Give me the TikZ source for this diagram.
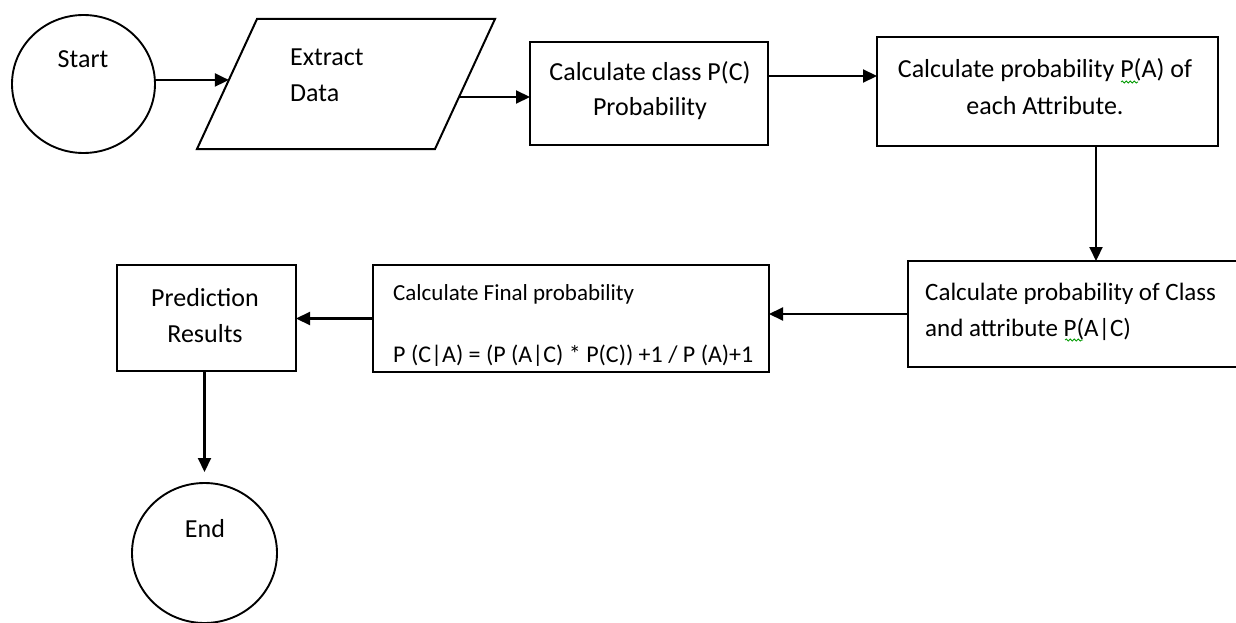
\documentclass[tikz,border=0pt]{standalone}
\usepackage{fontspec}
\setmainfont{Carlito}
\usetikzlibrary{arrows.meta,calc,shapes.geometric,decorations.pathmorphing}
\begin{document}
\begin{tikzpicture}[x=1pt,y=-1pt,
  flowbox/.style={draw, line width=2.2pt, inner sep=0pt, outer sep=0pt},
  termcircle/.style={draw, ellipse, line width=1.9pt, inner sep=0pt, outer sep=0pt},
  ioline/.style={draw, line width=2pt, line join=miter},
  lbl/.style={font=\fontsize{26}{30}\selectfont, inner sep=0pt, anchor=base},
  lbll/.style={lbl, anchor=base west},
  arr/.style={line width=2.1pt, -{Triangle[length=14pt,width=13pt]}},
  squig/.style={draw=green!60!black, line width=0.8pt, decorate,
    decoration={snake, segment length=4pt, amplitude=1.1pt}}
]
\useasboundingbox (0,0) rectangle (1236,623);
\clip (0,0) rectangle (1236,623);

% Start
\node[termcircle, minimum width=143pt, minimum height=138pt] (start) at (83.5,84) {};
\node[lbl] (starttxt) at (83,68) {Start};

% Extract data (parallelogram)
\coordinate (pbl) at (197,149);
\coordinate (ptl) at (257,19);
\coordinate (ptr) at (495,19);
\coordinate (pbr) at (435,149);
\path[ioline] (pbl) -- (ptl) -- (ptr) -- (pbr) -- cycle;
\node[lbll] (extract1) at (290,66) {Extract};
\node[lbll] (extract2) at (290,102) {Data};

% Calculate class probability
\node[flowbox, minimum width=238pt, minimum height=103pt] (calcclass) at (649,93.5) {};
\node[lbl] (cc1) at (650,81) {Calculate class P(C)};
\node[lbl] (cc2) at (650,116) {Probability};

% Calculate P(A)
\node[flowbox, minimum width=341pt, minimum height=109pt] (probA) at (1047.5,91.5) {};
\node[lbl] (pa1) at (1045,78) {Calculate probability P(A) of};
\node[lbl] (pa2) at (1045,114) {each Attribute.};

% Calculate P(A|C)
\node[flowbox, minimum width=337pt, minimum height=106pt] (condP) at (1076.5,314) {};
\node[lbll, font=\fontsize{25}{30}\selectfont] (cp1) at (925,300) {Calculate probability of Class};
\node[lbll, font=\fontsize{25}{30}\selectfont] (cp2) at (925,336) {and attribute P(A|C)};

% Final probability
\node[flowbox, minimum width=396pt, minimum height=107pt] (final) at (571,318.5) {};
\node[lbll, font=\fontsize{23}{28}\selectfont] (fp1) at (393,300) {Calculate Final probability};
\node[lbll, font=\fontsize{24}{28}\selectfont] (fp2) at (393,362) {P (C|A) = (P (A|C) * P(C)) +1 / P (A)+1};

% Prediction results
\node[flowbox, minimum width=179pt, minimum height=106pt] (pred) at (206.5,318) {};
\node[lbl] (pr1) at (205,306) {Prediction};
\node[lbl] (pr2) at (205,342) {Results};

% End
\node[termcircle, minimum width=145pt, minimum height=140pt] (endc) at (204.5,553) {};
\node[lbl] (endtxt) at (205,537) {End};

% spell-check squiggles
\draw[squig] (1121,82) -- (1138,82);
\draw[squig] (1065,340) -- (1083,340);

% connectors
\coordinate (pin) at ($(pbl)!0.531!(ptl)$);
\coordinate (pout) at ($(pbr)!0.4!(ptr)$);
\draw[arr] (start.east |- pin) -- (pin);
\draw[arr] (pout) -- (pout -| calcclass.west);
\draw[arr] ([yshift=17.5pt]calcclass.east) coordinate (a1) -- (a1 -| probA.west);
\draw[arr] ([xshift=48.5pt]probA.south) coordinate (a2) -- (a2 |- condP.north);
\draw[arr] (condP.west) -- (condP.west -| final.east);
\draw[arr] (final.west) -- (final.west -| pred.east);
\draw[arr] (pred.south -| endc.north) -- ([yshift=11pt]endc.north);
\end{tikzpicture}
\end{document}
